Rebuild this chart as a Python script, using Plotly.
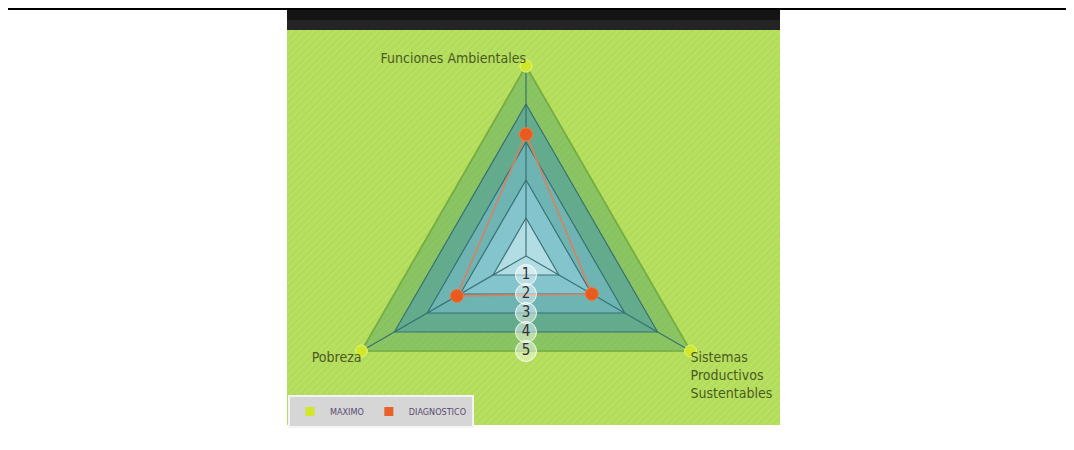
import math
import plotly.graph_objects as go

# data
categories = ["Funciones Ambientales", "Sistemas Productivos Sustentables", "Pobreza"]
cat_labels = ["Funciones Ambientales", "Sistemas<br>Productivos<br>Sustentables", "Pobreza"]
maximo = [5, 5, 5]
diagnostico = [3.2, 2.0, 2.1]
rings = [1, 2, 3, 4, 5]
ring_labels = ["1", "2", "3", "4", "5"]

W, H = 1074, 450
OFF = 8  # page body margin


def fx(x):
    return (x - OFF) / W


def fy(y):
    return (H - (y - OFF)) / H


# angle of each category on the angular axis (clockwise from top)
theta = {c: i * 360 / len(categories) for i, c in enumerate(categories)}
th = [theta[c] for c in categories]
th_closed = th + th[:1]

ring_fill = {
    5: "rgba(85,165,105,0.45)",
    4: "rgba(80,158,165,0.65)",
    3: "rgba(115,185,200,0.65)",
    2: "rgba(145,205,218,0.65)",
    1: "rgba(195,230,237,0.75)",
}
grid_line = "rgba(50,105,110,0.9)"
font_lbl = "DejaVu Sans Condensed, sans-serif"

fig = go.Figure()

# striped green background
fig.add_trace(go.Bar(
    x=[0], y=[1], width=1, xaxis="x", yaxis="y",
    marker=dict(color="#b2dc5a", line=dict(width=0),
                pattern=dict(shape="/", fgcolor="#c3e873", size=5, solidity=0.3)),
    hoverinfo="skip", showlegend=False,
))

# ring bands
for k in sorted(rings, reverse=True):
    fig.add_trace(go.Scatterpolar(
        r=[k] * len(th_closed), theta=th_closed, mode="lines", fill="toself",
        fillcolor=ring_fill[k], line=dict(color=grid_line, width=1.2),
        hoverinfo="skip", showlegend=False,
    ))

# spokes
for t in th:
    fig.add_trace(go.Scatterpolar(
        r=[0, max(rings)], theta=[t, t], mode="lines",
        line=dict(color=grid_line, width=1.2), hoverinfo="skip", showlegend=False,
    ))

# maximo
fig.add_trace(go.Scatterpolar(
    r=maximo + maximo[:1], theta=th_closed, mode="lines+markers",
    line=dict(color="rgba(130,185,60,0.8)", width=2),
    marker=dict(color="#cfe82c", size=12, line=dict(color="#e2f27a", width=1)),
    cliponaxis=False, hoverinfo="skip", showlegend=False,
))

# diagnostico
fig.add_trace(go.Scatterpolar(
    r=diagnostico + diagnostico[:1], theta=th_closed, mode="lines+markers",
    line=dict(color="#d98160", width=1.6),
    marker=dict(color="#e85a1e", size=13, line=dict(color="#f07a40", width=1)),
    cliponaxis=False, hoverinfo="skip", showlegend=False,
))

# ring numbers on the bottom edge midpoints
half = math.cos(math.pi / len(categories))
fig.add_trace(go.Scatterpolar(
    r=[k * half for k in rings], theta=[180] * len(rings), mode="markers+text",
    text=ring_labels, textposition="middle center",
    textfont=dict(family=font_lbl, size=15, color="#333333"),
    marker=dict(color="rgba(255,255,255,0.45)", size=21,
                line=dict(color="rgba(255,255,255,0.85)", width=1)),
    cliponaxis=False, hoverinfo="skip", showlegend=False,
))

# category labels
positions = ["top left", "bottom right", "bottom left"]
for c, lab, pos in zip(categories, cat_labels, positions):
    fig.add_trace(go.Scatterpolar(
        r=[max(rings)], theta=[theta[c]], mode="text", text=[lab], textposition=pos,
        textfont=dict(family=font_lbl, size=14, color="#4b5a22"),
        cliponaxis=False, hoverinfo="skip", showlegend=False,
    ))

# legend entries
fig.add_trace(go.Scatterpolar(r=[None], theta=[None], mode="markers", name="MAXIMO",
                              marker=dict(symbol="square", color="#cfe82c", size=9)))
fig.add_trace(go.Scatterpolar(r=[None], theta=[None], mode="markers", name="DIAGNOSTICO",
                              marker=dict(symbol="square", color="#e8602a", size=9)))

cx, cy, rad = 526, 256, 190
fig.update_layout(
    width=W, height=H,
    margin=dict(l=0, r=0, t=0, b=0),
    paper_bgcolor="white", plot_bgcolor="rgba(0,0,0,0)",
    bargap=0,
    xaxis=dict(domain=[fx(287), fx(780)], range=[-0.5, 0.5], visible=False, fixedrange=True),
    yaxis=dict(domain=[fy(425), fy(30)], range=[0, 1], visible=False, fixedrange=True),
    polar=dict(
        domain=dict(x=[fx(cx - rad), fx(cx + rad)], y=[fy(cy + rad), fy(cy - rad)]),
        bgcolor="rgba(0,0,0,0)",
        radialaxis=dict(range=[0, max(rings)], visible=False),
        angularaxis=dict(type="linear", rotation=90, direction="clockwise",
                         visible=False, showgrid=False),
    ),
    legend=dict(orientation="h", x=fx(288), y=fy(395), xanchor="left", yanchor="top",
                bgcolor="#d6d6d6", bordercolor="#f4f4f4", borderwidth=2,
                font=dict(family="DejaVu Sans Condensed, DejaVu Sans", size=9, color="#5a4a70"),
                itemwidth=30, tracegroupgap=0),
    shapes=[
        dict(type="rect", xref="paper", yref="paper", x0=fx(287), x1=fx(780),
             y0=fy(30), y1=1, fillcolor="#141414", line=dict(width=0)),
        dict(type="rect", xref="paper", yref="paper", x0=fx(287), x1=fx(780),
             y0=fy(30), y1=fy(20), fillcolor="#242424", line=dict(width=0)),
        dict(type="line", xref="paper", yref="paper", x0=0, x1=fx(1072),
             y0=0.998, y1=0.998, line=dict(color="black", width=2)),
        dict(type="line", xref="paper", yref="paper", x0=fx(1072), x1=fx(1072),
             y0=0, y1=1, line=dict(color="black", width=2)),
    ],
)

fig.write_html("out.html")
